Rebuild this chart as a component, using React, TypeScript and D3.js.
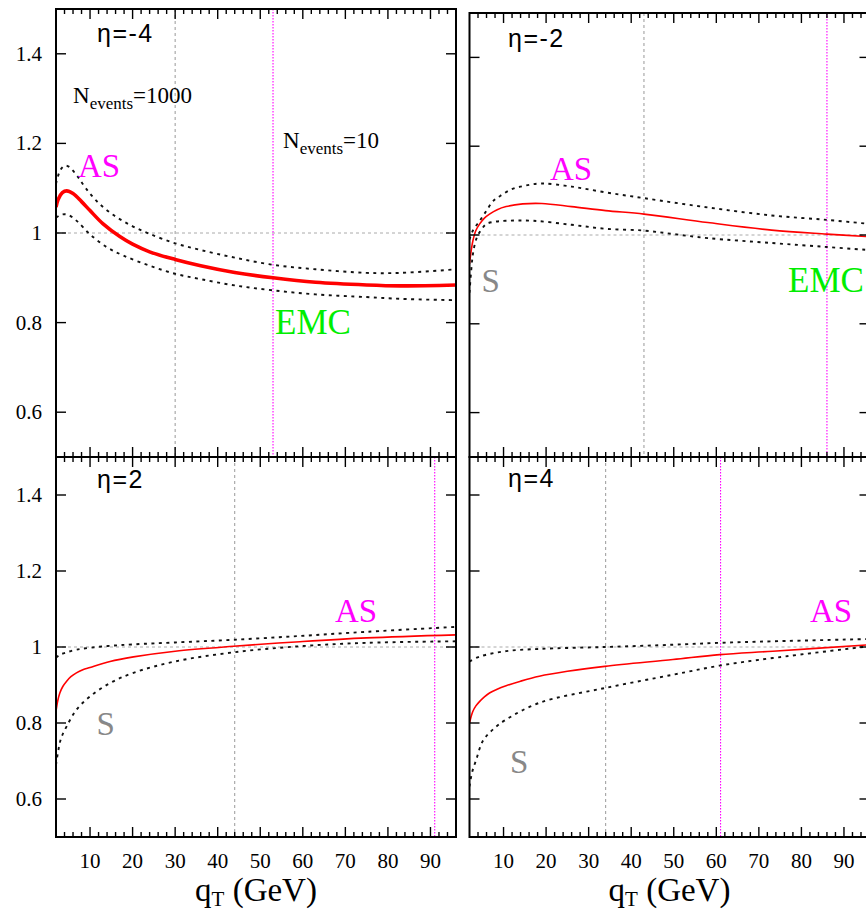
import React from 'react';
import * as d3 from 'd3';

const W = 866;
const H = 912;

// ---------- axes ----------
const Q_DOMAIN: [number, number] = [2, 96];
const Y_DOMAIN: [number, number] = [0.5, 1.5];
const X_MAJOR = [10, 20, 30, 40, 50, 60, 70, 80, 90];
const X_MINOR = d3.range(4, 96, 2).filter((v) => v % 10 !== 0);
const Y_TICKS = [0.6, 0.8, 1.0, 1.2, 1.4];
const Y_TICK_LABELS = ['0.6', '0.8', '1', '1.2', '1.4'];

// ---------- eta = -4 ----------
const qRedM4 = [2, 2.5, 3.5, 4.5, 6, 8, 10, 13, 17, 20, 24, 30, 36, 44, 53, 63, 75, 83, 96];
const redM4 = [1.058, 1.075, 1.09, 1.094, 1.088, 1.07, 1.05, 1.021, 0.992, 0.975, 0.958, 0.941, 0.927, 0.912, 0.9, 0.89, 0.884, 0.882, 0.884];
const qUpM4 = [2, 3, 4, 5, 7, 9, 12, 16, 20, 24, 30, 36, 44, 53, 63, 75, 83, 96];
const upM4 = [1.11, 1.14, 1.15, 1.148, 1.127, 1.1, 1.067, 1.037, 1.015, 0.998, 0.977, 0.962, 0.945, 0.929, 0.919, 0.911, 0.911, 0.919];
const qLoM4 = [2, 3, 4, 5, 7, 10, 14, 18, 24, 30, 36, 44, 53, 63, 75, 83, 96];
const loM4 = [1.034, 1.04, 1.042, 1.04, 1.026, 0.997, 0.968, 0.949, 0.927, 0.909, 0.897, 0.883, 0.872, 0.863, 0.857, 0.853, 0.85];

// ---------- eta = -2 ----------
const qRedM2 = [2, 2.4, 2.8, 3.5, 4.4, 5.5, 6.7, 8.5, 10.6, 14.5, 19, 26, 34, 43, 58, 73, 86, 96];
const redM2 = [0.935, 0.965, 0.987, 1.01, 1.025, 1.038, 1.047, 1.057, 1.064, 1.07, 1.071, 1.064, 1.055, 1.047, 1.028, 1.011, 1.002, 0.996];
const qUpM2 = [2, 2.8, 4.4, 6, 7.6, 9.2, 11.9, 15, 19, 26, 34, 43, 58, 73, 86, 96];
const upM2 = [0.99, 1.01, 1.032, 1.055, 1.077, 1.088, 1.103, 1.111, 1.116, 1.109, 1.096, 1.083, 1.062, 1.044, 1.034, 1.025];
const qLoM2 = [2, 2.4, 2.8, 3.4, 4, 5, 6, 8, 10.6, 17, 26, 34, 43, 50, 58, 73, 86, 96];
const loM2 = [0.87, 0.92, 0.957, 0.985, 1.0, 1.015, 1.025, 1.03, 1.032, 1.032, 1.023, 1.014, 1.01, 1.002, 0.993, 0.982, 0.973, 0.966];

// ---------- eta = 2 ----------
const qRedP2 = [2, 2.4, 2.9, 3.6, 4.5, 5.5, 6.8, 8.3, 10, 14.7, 20.2, 30, 43.7, 59.3, 75, 96];
const redP2 = [0.831, 0.858, 0.879, 0.896, 0.91, 0.922, 0.932, 0.94, 0.946, 0.962, 0.974, 0.989, 1.002, 1.014, 1.024, 1.032];
const qUpP2 = [2, 3, 4.5, 6.8, 10, 14.7, 20.2, 30, 43.7, 59.3, 75, 96];
const upP2 = [0.972, 0.98, 0.986, 0.993, 0.998, 1.003, 1.007, 1.012, 1.019, 1.029, 1.04, 1.053];
const qLoP2 = [2, 2.5, 3.2, 4.5, 6.8, 10, 14.7, 20.2, 30, 43.7, 59.3, 75, 96];
const loP2 = [0.69, 0.725, 0.76, 0.791, 0.835, 0.87, 0.905, 0.932, 0.962, 0.986, 1.002, 1.011, 1.015];

// ---------- eta = 4 ----------
const qRedP4 = [2, 2.4, 2.8, 3.5, 4.4, 5.5, 6.7, 8.5, 10.6, 14, 18.4, 25, 33.8, 49.8, 60.8, 73.3, 96];
const redP4 = [0.8, 0.818, 0.831, 0.845, 0.857, 0.869, 0.879, 0.889, 0.898, 0.91, 0.923, 0.936, 0.949, 0.967, 0.98, 0.989, 1.006];
const qUpP4 = [2, 4.4, 10.6, 18.4, 33.8, 49.8, 60.8, 73.3, 96];
const upP4 = [0.962, 0.975, 0.989, 0.995, 1.0, 1.006, 1.011, 1.015, 1.021];
const qLoP4 = [2, 2.6, 3.6, 5.1, 7.4, 10.6, 18.4, 33.8, 49.8, 60.8, 73.3, 96];
const loP4 = [0.633, 0.67, 0.704, 0.752, 0.782, 0.809, 0.853, 0.892, 0.927, 0.951, 0.971, 1.002];

// reference lines (q values)
const greyLines = [30, 43, 44, 34];
const magentaLines = [53, 86, 91, 61];
const etaLabels = ['η=-4', 'η=-2', 'η=2', 'η=4'];

const zip = (q: number[], v: number[]) => q.map((x, i) => [x, v[i]] as [number, number]);

type Lbl = { t: string; x: number; y: number; c: string; s: number };

const panels = [
  {
    x0: 56, x1: 456, y0: 9, y1: 457,
    red: zip(qRedM4, redM4), up: zip(qUpM4, upM4), lo: zip(qLoM4, loM4),
    redW: 3.6, grey: greyLines[0], mag: magentaLines[0], eta: etaLabels[0],
    etaPos: [97, 41.5],
    labels: [
      { t: 'AS', x: 78, y: 177, c: '#ff00ff', s: 33 },
      { t: 'EMC', x: 275, y: 334, c: '#00ee00', s: 35 },
    ] as Lbl[],
    nev: true, left: true, bottom: false,
  },
  {
    x0: 469.5, x1: 869.5, y0: 13, y1: 457,
    red: zip(qRedM2, redM2), up: zip(qUpM2, upM2), lo: zip(qLoM2, loM2),
    redW: 1.6, grey: greyLines[1], mag: magentaLines[1], eta: etaLabels[1],
    etaPos: [508, 46.5],
    labels: [
      { t: 'AS', x: 550, y: 180, c: '#ff00ff', s: 33 },
      { t: 'S', x: 481.5, y: 291.5, c: '#888888', s: 33 },
      { t: 'EMC', x: 788, y: 291.5, c: '#00ee00', s: 35 },
    ] as Lbl[],
    nev: false, left: false, bottom: false,
  },
  {
    x0: 56, x1: 456, y0: 457, y1: 837,
    red: zip(qRedP2, redP2), up: zip(qUpP2, upP2), lo: zip(qLoP2, loP2),
    redW: 1.6, grey: greyLines[2], mag: magentaLines[2], eta: etaLabels[2],
    etaPos: [97, 488],
    labels: [
      { t: 'AS', x: 335, y: 621.5, c: '#ff00ff', s: 33 },
      { t: 'S', x: 96.5, y: 735, c: '#888888', s: 33 },
    ] as Lbl[],
    nev: false, left: true, bottom: true,
  },
  {
    x0: 469.5, x1: 869.5, y0: 457, y1: 837,
    red: zip(qRedP4, redP4), up: zip(qUpP4, upP4), lo: zip(qLoP4, loP4),
    redW: 1.6, grey: greyLines[3], mag: magentaLines[3], eta: etaLabels[3],
    etaPos: [508, 487],
    labels: [
      { t: 'AS', x: 810, y: 621.5, c: '#ff00ff', s: 33 },
      { t: 'S', x: 510, y: 773, c: '#888888', s: 33 },
    ] as Lbl[],
    nev: false, left: false, bottom: true,
  },
];

const SERIF = '"Liberation Serif", "Times New Roman", serif';
const SANS = '"Liberation Sans", Arial, sans-serif';

function Panel({ p, idx }: { p: (typeof panels)[number]; idx: number }) {
  const x = d3.scaleLinear().domain(Q_DOMAIN).range([p.x0, p.x1]);
  const y = d3.scaleLinear().domain(Y_DOMAIN).range([p.y1, p.y0]);
  const line = d3
    .line<[number, number]>()
    .x((d) => x(d[0]))
    .y((d) => y(d[1]))
    .curve(d3.curveCatmullRom.alpha(0.5));
  const clipId = `clip${idx}`;
  const tk = 1.4;
  return (
    <g>
      <defs>
        <clipPath id={clipId}>
          <rect x={p.x0} y={p.y0} width={p.x1 - p.x0} height={p.y1 - p.y0} />
        </clipPath>
      </defs>
      <g clipPath={`url(#${clipId})`}>
        <line x1={p.x0} x2={p.x1} y1={y(1)} y2={y(1)} stroke="#aaa" strokeWidth={1} strokeDasharray="3,3" />
        <line x1={x(p.grey)} x2={x(p.grey)} y1={p.y0} y2={p.y1} stroke="#999" strokeWidth={1} strokeDasharray="3,3" />
        <line x1={x(p.mag)} x2={x(p.mag)} y1={p.y0} y2={p.y1} stroke="#ff00ff" strokeWidth={1.1} strokeDasharray="1.5,1.5" />
        <path d={line(p.up) || ''} fill="none" stroke="#111" strokeWidth={1.9} strokeDasharray="3,4.5" />
        <path d={line(p.lo) || ''} fill="none" stroke="#111" strokeWidth={1.9} strokeDasharray="3,4.5" />
        <path d={line(p.red) || ''} fill="none" stroke="#ff0000" strokeWidth={p.redW} />
      </g>
      {X_MAJOR.map((t) => (
        <g key={`mj${t}`} stroke="#000" strokeWidth={tk}>
          <line x1={x(t)} x2={x(t)} y1={p.y0} y2={p.y0 + 10} />
          <line x1={x(t)} x2={x(t)} y1={p.y1} y2={p.y1 - 10} />
        </g>
      ))}
      {X_MINOR.map((t) => (
        <g key={`mn${t}`} stroke="#000" strokeWidth={tk}>
          <line x1={x(t)} x2={x(t)} y1={p.y0} y2={p.y0 + 5} />
          <line x1={x(t)} x2={x(t)} y1={p.y1} y2={p.y1 - 5} />
        </g>
      ))}
      {Y_TICKS.map((t) => (
        <g key={`y${t}`} stroke="#000" strokeWidth={tk}>
          <line x1={p.x0} x2={p.x0 + 10} y1={y(t)} y2={y(t)} />
          <line x1={p.x1} x2={p.x1 - 10} y1={y(t)} y2={y(t)} />
        </g>
      ))}
      <rect x={p.x0} y={p.y0} width={p.x1 - p.x0} height={p.y1 - p.y0} fill="none" stroke="#000" strokeWidth={2} />
      {p.left &&
        Y_TICKS.map((t, i) => (
          <text key={`yl${t}`} x={42} y={y(t) + 7} textAnchor="end" fontFamily={SERIF} fontSize={21} fill="#000">
            {Y_TICK_LABELS[i]}
          </text>
        ))}
      {p.bottom &&
        X_MAJOR.map((t) => (
          <text key={`xl${t}`} x={x(t)} y={868} textAnchor="middle" fontFamily={SERIF} fontSize={21} fill="#000">
            {t}
          </text>
        ))}
      {p.bottom && (
        <text x={(p.x0 + p.x1) / 2} y={901} textAnchor="middle" fontFamily={SERIF} fontSize={33} fill="#000">
          q
          <tspan fontSize={21} dy={5}>T</tspan>
          <tspan dy={-5}> (GeV)</tspan>
        </text>
      )}
      <text x={p.etaPos[0]} y={p.etaPos[1]} fontFamily={SANS} fontSize={25} fill="#000" letterSpacing={1.5}>
        {p.eta}
      </text>
      {p.labels.map((l, i) => (
        <text key={`lb${i}`} x={l.x} y={l.y} fontFamily={SERIF} fontSize={l.s} fill={l.c}>
          {l.t}
        </text>
      ))}
      {p.nev && (
        <>
          <text x={73} y={103} fontFamily={SERIF} fontSize={23} fill="#000">
            N<tspan fontSize={17} dy={6}>events</tspan>
            <tspan dy={-6}>=1000</tspan>
          </text>
          <text x={283} y={148} fontFamily={SERIF} fontSize={23} fill="#000">
            N<tspan fontSize={17} dy={6}>events</tspan>
            <tspan dy={-6}>=10</tspan>
          </text>
        </>
      )}
    </g>
  );
}

export default function App() {
  return (
    <svg
      width={W}
      height={H}
      viewBox={`0 0 ${W} ${H}`}
      style={{ position: 'absolute', left: 0, top: 0, background: '#fff' }}
    >
      <rect x={0} y={0} width={W} height={H} fill="#fff" />
      {panels.map((p, i) => (
        <Panel key={i} p={p} idx={i} />
      ))}
    </svg>
  );
}
